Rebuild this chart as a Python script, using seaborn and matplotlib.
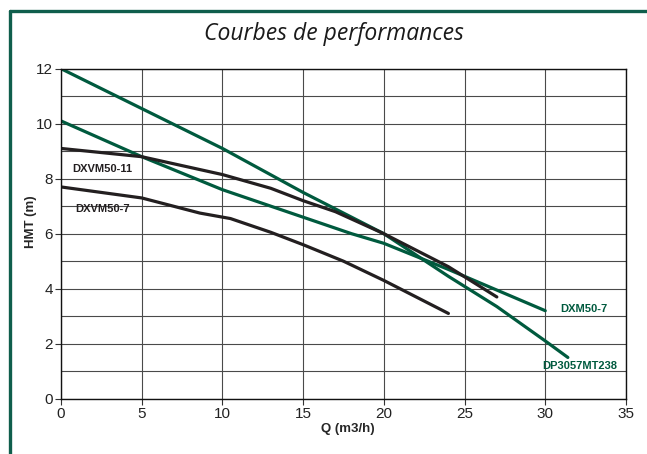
import matplotlib
matplotlib.use("Agg")
import matplotlib.pyplot as plt
import seaborn as sns
import pandas as pd
from matplotlib.lines import Line2D

# Data
dp3057_q = [0, 5, 10, 15, 20, 24, 27, 30, 31.4]
dp3057_h = [12.0, 10.55, 9.1, 7.5, 6.0, 4.45, 3.35, 2.1, 1.5]

dxm50_7_q = [0, 5, 10, 15, 18, 20, 24, 27, 30]
dxm50_7_h = [10.1, 8.8, 7.6, 6.6, 6.0, 5.65, 4.7, 3.95, 3.2]

dxvm50_11_q = [0, 5, 10, 13, 15, 17, 20, 24, 27]
dxvm50_11_h = [9.1, 8.8, 8.15, 7.65, 7.2, 6.8, 6.0, 4.8, 3.7]

dxvm50_7_q = [0, 5, 8.6, 10.5, 13, 15, 17.5, 20, 24]
dxvm50_7_h = [7.7, 7.3, 6.75, 6.55, 6.05, 5.6, 5.0, 4.3, 3.1]

series_names = ["DP3057MT238", "DXM50-7", "DXVM50-11", "DXVM50-7"]
x_ticks = [0, 5, 10, 15, 20, 25, 30, 35]
y_ticks = [0, 2, 4, 6, 8, 10, 12]

GREEN = "#005a3e"
BLACK = "#231f20"

frames = []
for name, q, h in zip(series_names,
                      [dp3057_q, dxm50_7_q, dxvm50_11_q, dxvm50_7_q],
                      [dp3057_h, dxm50_7_h, dxvm50_11_h, dxvm50_7_h]):
    frames.append(pd.DataFrame({"Q": q, "H": h, "serie": name}))
df = pd.concat(frames, ignore_index=True)

sns.set_style("white")
plt.rcParams["font.family"] = ["Liberation Sans", "DejaVu Sans"]

fig = plt.figure(figsize=(6.47, 4.54), dpi=100)
ax = fig.add_axes([0.0943, 0.1218, 0.8732, 0.7269])

palette = {"DP3057MT238": GREEN, "DXM50-7": GREEN, "DXVM50-11": BLACK, "DXVM50-7": BLACK}
sns.lineplot(data=df, x="Q", y="H", hue="serie", palette=palette, ax=ax,
             linewidth=2.3, legend=False, sort=False, estimator=None)

ax.set_xlim(0, 35)
ax.set_ylim(0, 12)
ax.set_xticks(x_ticks)
ax.set_yticks(y_ticks)
ax.set_yticks(list(range(1, 12, 2)), minor=True)
ax.grid(True, which="major", axis="both", color="#4a4a4a", linewidth=0.8)
ax.grid(True, which="minor", axis="y", color="#4a4a4a", linewidth=0.8)
ax.tick_params(axis="both", which="major", labelsize=11, length=4, width=0.8,
               color="#333333", labelcolor="#222222", direction="out", pad=2,
               bottom=True, left=True)
ax.tick_params(axis="y", which="minor", length=0)
for s in ax.spines.values():
    s.set_color("#111111")
    s.set_linewidth(1.0)

ax.set_xlabel("Q (m3/h)", fontsize=9.5, fontweight="bold")
ax.set_ylabel("HMT (m)", fontsize=9.5, fontweight="bold")
ax.xaxis.set_label_coords(0.508, -0.074)
ax.yaxis.set_label_coords(-0.0425, 0.535)

lab_kw = dict(fontsize=8, fontweight="bold")
ax.text(0.68, 8.35, "DXVM50-11", color=BLACK, va="center", ha="left", **lab_kw)
ax.text(0.87, 6.9, "DXVM50-7", color=BLACK, va="center", ha="left", **lab_kw)
ax.text(30.9, 3.26, "DXM50-7", color=GREEN, va="center", ha="left", **lab_kw)
ax.text(29.8, 1.19, "DP3057MT238", color=GREEN, va="center", ha="left", **lab_kw)

fig.text(0.516, 0.926, "Courbes de performances", ha="center", va="center",
         fontsize=16.5, fontstyle="italic", family=["Open Sans", "DejaVu Sans"],
         color="#1a1a1a")

# green frame (top and left edges)
fig.add_artist(Line2D([0.016, 1.0], [0.9758, 0.9758], color="#0f5e4c",
                      linewidth=2.4, transform=fig.transFigure))
fig.add_artist(Line2D([0.016, 0.016], [0.0, 0.9758], color="#0f5e4c",
                      linewidth=2.4, transform=fig.transFigure))

fig.savefig("out.png", dpi=100)
